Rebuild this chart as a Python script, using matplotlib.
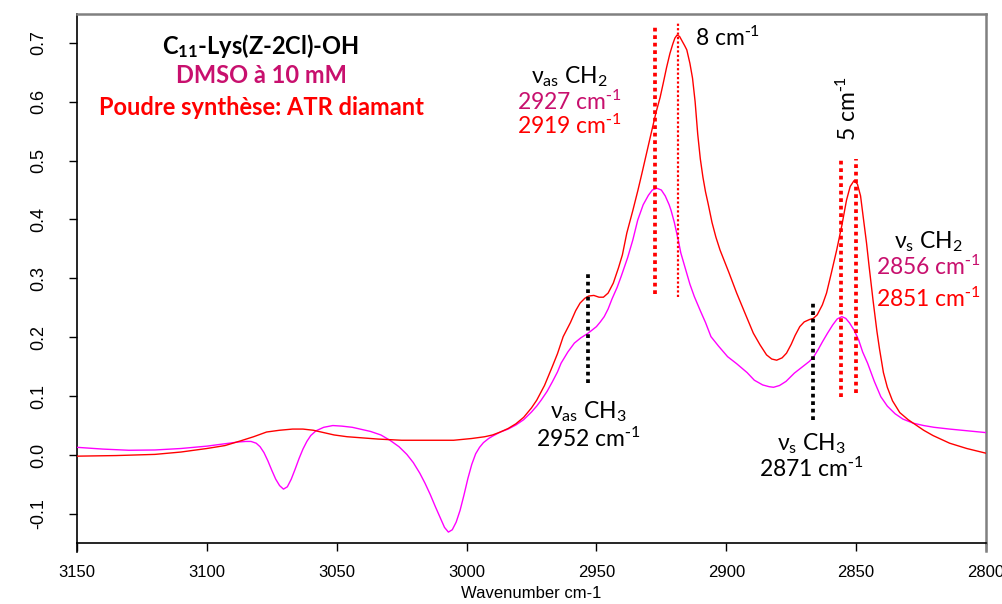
import matplotlib
matplotlib.use("Agg")
import matplotlib.pyplot as plt

# ---------------- data ----------------
wn_red = [3150, 3135, 3120, 3110, 3100, 3093, 3087, 3082, 3077, 3072, 3067, 3063, 3059, 3055,
          3051, 3046, 3040, 3034, 3025, 3015, 3005, 2998, 2993, 2990, 2987, 2984, 2981, 2978,
          2975, 2973, 2970, 2967, 2965, 2962.8, 2960, 2958, 2956.3, 2954.5, 2953, 2951, 2949,
          2947.3, 2945.5, 2943.5, 2941.5, 2940, 2938.3, 2936, 2934, 2932.5, 2931.3, 2929, 2927.1,
          2925.5, 2924.3, 2923, 2921.7, 2920.6, 2919.8, 2919, 2918, 2917, 2916, 2915.2, 2914,
          2913, 2912, 2911, 2910, 2909, 2908, 2907, 2905.5, 2904, 2902.4, 2899, 2896, 2893,
          2889.6, 2887, 2884.5, 2882.5, 2880.6, 2878.5, 2876.8, 2875, 2873.5, 2871.7, 2870, 2868,
          2866.5, 2865, 2863, 2861.4, 2859.5, 2857.5, 2855.5, 2853.7, 2852.3, 2850.8, 2849.5,
          2848.3, 2847.3, 2846, 2845, 2843.5, 2842, 2841, 2839.5, 2838, 2836, 2833.2, 2830, 2828,
          2824, 2820.4, 2814, 2807.4, 2800]
abs_red = [-0.002, -0.001, 0.001, 0.005, 0.011, 0.016, 0.024, 0.031, 0.039, 0.042, 0.044, 0.044,
           0.042, 0.038, 0.034, 0.031, 0.029, 0.027, 0.025, 0.025, 0.025, 0.028, 0.031, 0.034,
           0.039, 0.045, 0.053, 0.064, 0.080, 0.093, 0.118, 0.150, 0.172, 0.201, 0.225, 0.245,
           0.258, 0.266, 0.270, 0.271, 0.268, 0.268, 0.275, 0.292, 0.318, 0.340, 0.377, 0.415,
           0.450, 0.478, 0.501, 0.545, 0.581, 0.607, 0.631, 0.658, 0.682, 0.698, 0.708, 0.713,
           0.711, 0.703, 0.695, 0.688, 0.665, 0.640, 0.600, 0.545, 0.503, 0.472, 0.447, 0.427,
           0.395, 0.370, 0.348, 0.310, 0.275, 0.243, 0.207, 0.187, 0.170, 0.163, 0.161, 0.165,
           0.173, 0.188, 0.203, 0.218, 0.226, 0.230, 0.232, 0.238, 0.255, 0.275, 0.310, 0.348,
           0.390, 0.433, 0.456, 0.466, 0.460, 0.440, 0.405, 0.360, 0.320, 0.263, 0.210, 0.180,
           0.140, 0.115, 0.092, 0.072, 0.060, 0.054, 0.042, 0.033, 0.020, 0.011, 0.003]

wn_mag = [3150, 3140, 3130, 3120, 3110, 3100, 3093, 3088, 3085, 3083, 3081, 3079.5, 3078, 3076.5,
          3075, 3073.5, 3072, 3070.5, 3069, 3067.5, 3066, 3064.5, 3063, 3061.5, 3060, 3058, 3055,
          3051.5, 3048, 3044, 3041, 3037, 3033, 3029.5, 3026, 3023, 3020.5, 3018, 3016, 3014,
          3012, 3010, 3008.5, 3007, 3005.5, 3004, 3002.5, 3001, 2999.5, 2998, 2996.5, 2995,
          2993.5, 2991.5, 2990, 2987, 2984, 2981, 2978, 2975, 2973, 2971.3, 2969, 2967, 2965,
          2963.6, 2961, 2958.5, 2956, 2953.5, 2952, 2950, 2948.5, 2947, 2945.5, 2944, 2942,
          2940.5, 2938, 2936, 2934.1, 2932, 2930, 2928.5, 2926.7, 2925, 2923.5, 2922, 2921.3,
          2920, 2918.5, 2917.5, 2916, 2914, 2912.3, 2910, 2908, 2905.9, 2903, 2899.5, 2896, 2892,
          2889.2, 2886, 2883.5, 2881.8, 2879.5, 2877, 2873.8, 2870, 2868, 2866.3, 2864.5, 2863,
          2861, 2859, 2857.3, 2855.5, 2854, 2852.5, 2850.8, 2849, 2847.5, 2845.6, 2843, 2840.5,
          2838, 2835, 2832, 2828, 2824, 2820, 2814, 2807, 2800]
abs_mag = [0.013, 0.010, 0.008, 0.0085, 0.011, 0.015, 0.019, 0.022, 0.023, 0.023, 0.020, 0.014,
           0.004, -0.010, -0.026, -0.041, -0.052, -0.058, -0.054, -0.041, -0.024, -0.006, 0.010,
           0.023, 0.033, 0.041, 0.047, 0.050, 0.049, 0.047, 0.044, 0.040, 0.034, 0.025, 0.014,
           0.001, -0.013, -0.031, -0.048, -0.067, -0.088, -0.108, -0.123, -0.131, -0.127, -0.114,
           -0.094, -0.068, -0.040, -0.016, 0.002, 0.013, 0.021, 0.028, 0.032, 0.039, 0.044, 0.051,
           0.060, 0.073, 0.083, 0.093, 0.108, 0.124, 0.141, 0.156, 0.175, 0.190, 0.199, 0.206,
           0.211, 0.218, 0.226, 0.235, 0.248, 0.265, 0.285, 0.303, 0.335, 0.365, 0.399, 0.425,
           0.441, 0.450, 0.453, 0.450, 0.440, 0.425, 0.416, 0.395, 0.365, 0.343, 0.320, 0.290,
           0.269, 0.245, 0.225, 0.201, 0.185, 0.167, 0.155, 0.140, 0.127, 0.119, 0.116, 0.115,
           0.118, 0.125, 0.139, 0.152, 0.159, 0.167, 0.180, 0.192, 0.207, 0.221, 0.231, 0.235,
           0.232, 0.224, 0.212, 0.195, 0.175, 0.156, 0.125, 0.099, 0.083, 0.070, 0.061, 0.054,
           0.050, 0.047, 0.044, 0.041, 0.038]

x_ticks = [3150, 3100, 3050, 3000, 2950, 2900, 2850, 2800]
y_ticks = [-0.1, 0.0, 0.1, 0.2, 0.3, 0.4, 0.5, 0.6, 0.7]
y_tick_labels = ["-0.1", "0.0", "0.1", "0.2", "0.3", "0.4", "0.5", "0.6", "0.7"]

# hand-drawn marker lines (as placed on the picture): wavenumber, (y-start, y-end)
black_marks_x = [2953.1, 2866.7]
black_marks_y = [(0.122, 0.313), (0.059, 0.260)]
red_marks_x = [2927.4, 2855.8, 2850.0]
red_marks_y = [(0.274, 0.731), (0.099, 0.502), (0.105, 0.502)]
thin_mark_x = [2918.6]
thin_mark_y = [(0.269, 0.734)]

# ---------------- figure ----------------
W, H = 1003, 604
fig = plt.figure(figsize=(W / 100, H / 100), dpi=100)
L, R, T, B = 77, 986, 14, 543
ax = fig.add_axes([L / W, 1 - B / H, (R - L) / W, (B - T) / H])

XMIN, XMAX = 3150, 2800
YMIN, YMAX = -0.1495, 0.749
ax.set_xlim(XMIN, XMAX)
ax.set_ylim(YMIN, YMAX)

RED = "#FF0000"
MAG = "#FF00FF"
DMSO_COL = "#C8106E"

ax.plot(wn_mag, abs_mag, color=MAG, lw=1.0, zorder=3)
ax.plot(wn_red, abs_red, color=RED, lw=1.0, zorder=4)

for xv, (y0, y1) in zip(black_marks_x, black_marks_y):
    ax.plot([xv, xv], [y0, y1], color="black", lw=2.7, ls=(0, (1, 1)), zorder=5)
for xv, (y0, y1) in zip(red_marks_x, red_marks_y):
    ax.plot([xv, xv], [y0, y1], color=RED, lw=2.7, ls=(0, (1, 1)), zorder=5)
for xv, (y0, y1) in zip(thin_mark_x, thin_mark_y):
    ax.plot([xv, xv], [y0, y1], color=RED, lw=1.6, ls=(0, (1, 1)), zorder=5)

# axes styling
for s in ["left", "bottom"]:
    ax.spines[s].set_color("black")
    ax.spines[s].set_linewidth(1.2)
for s in ["top", "right"]:
    ax.spines[s].set_color("#808080")
    ax.spines[s].set_linewidth(1.8)
ax.plot([0, 0], [0, -0.017], transform=ax.transAxes, color="black", lw=1.2, clip_on=False)
ax.plot([1, 1], [0, -0.015], transform=ax.transAxes, color="#808080", lw=1.8, clip_on=False)

xfont = dict(family=["Liberation Sans", "DejaVu Sans"], size=12)
yfont = dict(family=["Liberation Sans", "DejaVu Sans"], size=13)
ax.set_xticks(x_ticks)
ax.set_xticklabels([str(v) for v in x_ticks], **xfont)
ax.set_yticks(y_ticks)
ax.set_yticklabels(y_tick_labels, rotation=90, va="center", **yfont)
ax.tick_params(axis="both", direction="out", length=5.5, width=1.0, color="black")
ax.tick_params(axis="x", pad=10)
ax.tick_params(axis="y", pad=16)
ax.set_xlabel("Wavenumber cm-1", labelpad=5,
              family=["Liberation Sans", "DejaVu Sans"], size=12)

plt.rcParams["mathtext.default"] = "regular"


def px(xp, yp):
    """convert reference pixel position to data coordinates"""
    xd = XMIN + (xp - L) * (XMAX - XMIN) / (R - L)
    yd = YMAX - (yp - T) * (YMAX - YMIN) / (B - T)
    return xd, yd


FAM = ["Lato", "DejaVu Sans"]
FS = 16.5
CM = r"cm$^{\text{-}1}$"


def label(xp, yp, s, color="black", size=FS, weight="normal", rot=0, va="baseline"):
    xd, yd = px(xp, yp)
    ax.text(xd, yd, s, color=color, fontsize=size, fontweight=weight, family=FAM,
            ha="center", va=va, rotation=rot, zorder=6)


# title block
label(261, 54, "C$_{11}$-Lys(Z-2Cl)-OH", size=17, weight="bold")
label(261, 83, "DMSO à 10 mM", color=DMSO_COL, size=17, weight="bold")
label(261, 115, "Poudre synthèse: ATR diamant", color=RED, size=17, weight="bold")

# asymmetric CH2
label(569, 83, "ν$_{as}$ CH$_2$")
label(569, 110, "2927 " + CM, color=DMSO_COL)
label(569, 134, "2919 " + CM, color=RED)
label(727, 46, "8 " + CM)

# symmetric CH2
label(848, 109, "5 " + CM, rot=90, va="center")
label(928, 248, "ν$_{s}$ CH$_2$")
label(928, 275, "2856 " + CM, color=DMSO_COL)
label(928, 307, "2851 " + CM, color=RED)

# CH3
label(588, 418, "ν$_{as}$ CH$_3$")
label(588, 447, "2952 " + CM)
label(811, 450, "ν$_{s}$ CH$_3$")
label(811, 477, "2871 " + CM)

fig.savefig("out.png", dpi=100)
